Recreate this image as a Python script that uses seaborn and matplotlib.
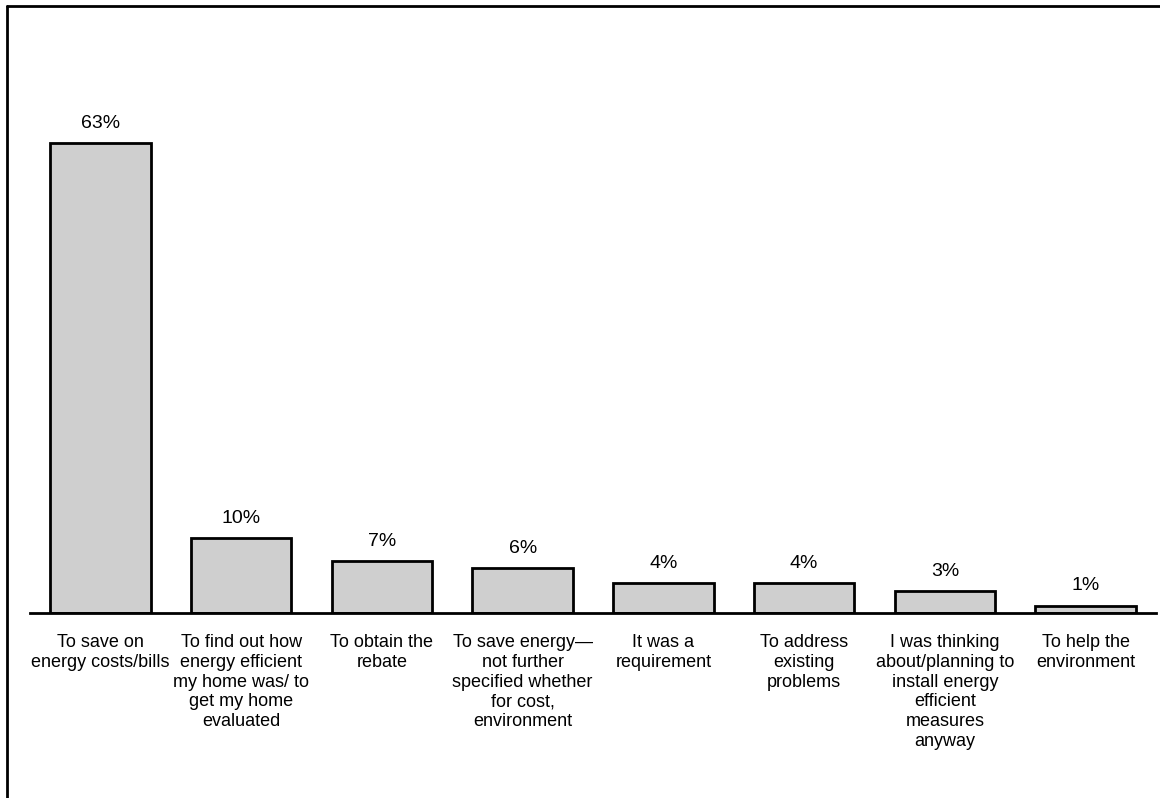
import matplotlib
matplotlib.use("Agg")
import matplotlib.pyplot as plt
import seaborn as sns
import pandas as pd
from matplotlib.lines import Line2D

categories = [
    "To save on\nenergy costs/bills",
    "To find out how\nenergy efficient\nmy home was/ to\nget my home\nevaluated",
    "To obtain the\nrebate",
    "To save energy\u2014\nnot further\nspecified whether\nfor cost,\nenvironment",
    "It was a\nrequirement",
    "To address\nexisting\nproblems",
    "I was thinking\nabout/planning to\ninstall energy\nefficient\nmeasures\nanyway",
    "To help the\nenvironment",
]
values = [63, 10, 7, 6, 4, 4, 3, 1]
value_labels = ["63%", "10%", "7%", "6%", "4%", "4%", "3%", "1%"]

df = pd.DataFrame({"reason": categories, "pct": values})

sns.set_theme(style="white")
plt.rcParams["font.family"] = ["Liberation Sans", "DejaVu Sans"]

fig = plt.figure(figsize=(11.6, 7.98), dpi=100)
ax = fig.add_axes([30 / 1160, (798 - 613) / 798, 1126 / 1160, 583 / 798])

sns.barplot(data=df, x="reason", y="pct", ax=ax, color="#cfcfcf",
            edgecolor="black", linewidth=2, width=0.715, saturation=1)

for p, lab in zip(ax.patches, value_labels):
    ax.annotate(lab, (p.get_x() + p.get_width() / 2, p.get_height()),
                xytext=(0, 8), textcoords="offset points",
                ha="center", va="bottom", fontsize=14, color="black")

ax.set_xlim(-0.5, 7.5)
ax.set_ylim(0, 78.2)
ax.set_xlabel("")
ax.set_ylabel("")
ax.set_yticks([])
ax.tick_params(axis="x", length=0, pad=15, colors="black")
for t in ax.get_xticklabels():
    t.set_fontsize(13)
    t.set_linespacing(1.22)
    t.set_color("black")
    t.set_verticalalignment("top")
for s in ["top", "right", "left"]:
    ax.spines[s].set_visible(False)
ax.spines["bottom"].set_color("black")
ax.spines["bottom"].set_linewidth(2)

# figure frame (left and top edges)
fig.add_artist(Line2D([7 / 1160, 7 / 1160], [0, 1 - 6 / 798], transform=fig.transFigure,
                      color="black", linewidth=2))
fig.add_artist(Line2D([7 / 1160, 1], [1 - 6 / 798, 1 - 6 / 798], transform=fig.transFigure,
                      color="black", linewidth=2))

fig.savefig("out.png", dpi=100, facecolor="white")
